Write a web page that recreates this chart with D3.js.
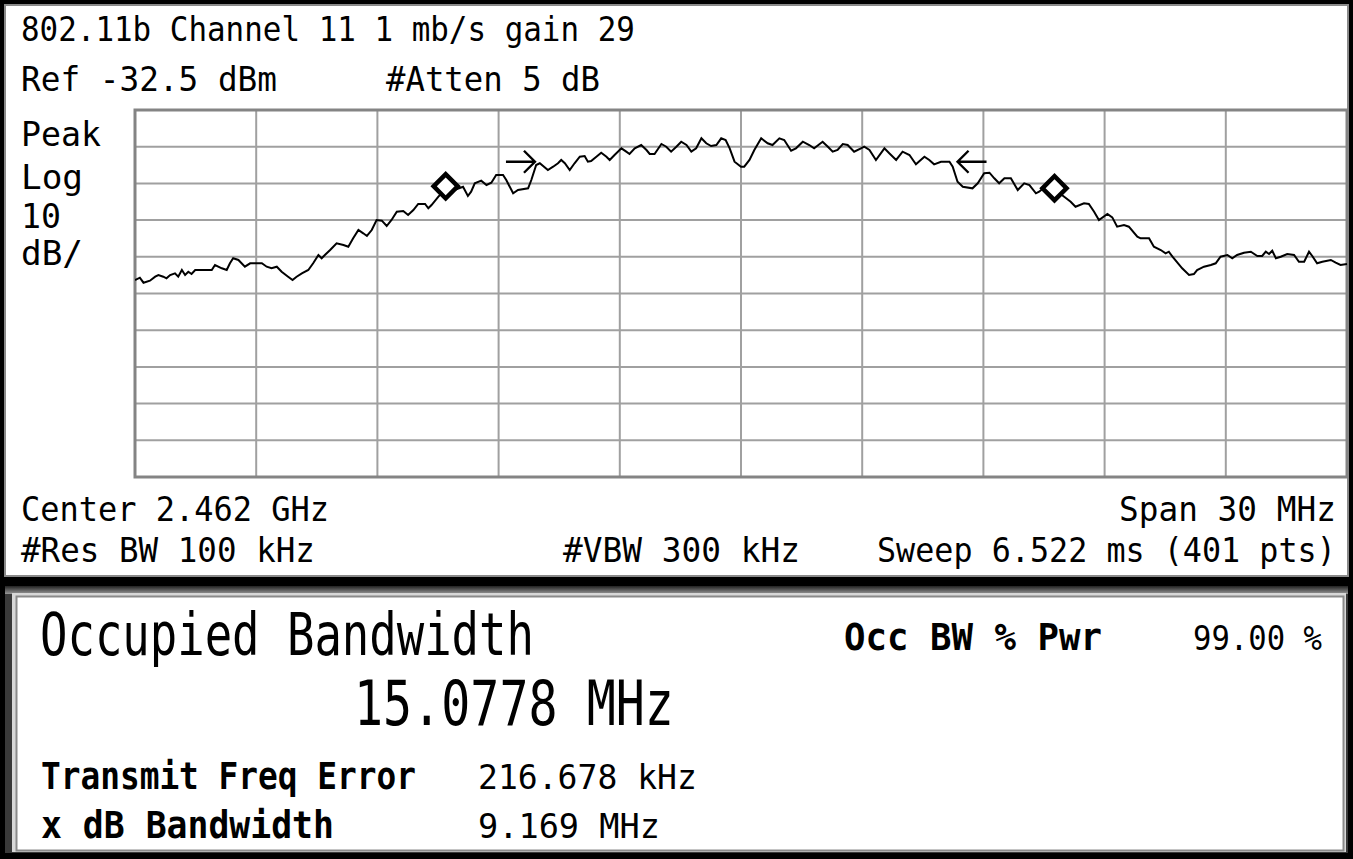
<!DOCTYPE html>
<html>
<head>
<meta charset="utf-8">
<script src="https://cdn.jsdelivr.net/npm/d3@7"></script>
<style>
html,body{margin:0;padding:0;background:#000;}
svg{display:block;}
</style>
</head>
<body>
<svg id="chart" width="1353" height="859"></svg>
<script>
// ---------- data ----------
const freqOffsetMHz = [-15.00,-14.88,-14.79,-14.63,-14.50,-14.42,-14.30,-14.22,-14.13,-14.01,
-13.93,-13.84,-13.76,-13.68,-13.60,-13.51,-13.10,-13.02,-12.85,-12.73,
-12.65,-12.57,-12.44,-12.28,-12.15,-11.99,-11.86,-11.74,-11.62,-11.49,
-11.37,-11.21,-11.10,-11.00,-10.87,-10.71,-10.59,-10.46,-10.38,-10.30,
-10.17,-10.01,-9.84,-9.72,-9.60,-9.47,-9.35,-9.26,-9.14,-9.02,
-8.89,-8.77,-8.65,-8.52,-8.36,-8.24,-8.11,-7.99,-7.82,-7.74,
-7.66,-7.49,-7.38,-7.23,-7.09,-6.88,-6.76,-6.68,-6.59,-6.43,
-6.30,-6.18,-6.06,-5.89,-5.81,-5.64,-5.52,-5.27,-5.19,-5.07,
-4.98,-4.78,-4.65,-4.53,-4.45,-4.36,-4.24,-4.12,-3.99,-3.87,
-3.79,-3.71,-3.58,-3.46,-3.33,-3.25,-3.13,-2.96,-2.84,-2.76,
-2.63,-2.47,-2.34,-2.26,-2.14,-1.97,-1.85,-1.73,-1.60,-1.48,
-1.35,-1.23,-1.11,-0.98,-0.86,-0.74,-0.61,-0.49,-0.38,-0.28,
-0.16,0.00,0.08,0.21,0.33,0.50,0.66,0.78,0.95,1.07,
1.24,1.36,1.53,1.69,1.81,2.02,2.15,2.27,2.39,2.52,
2.64,2.80,2.97,3.05,3.18,3.34,3.55,3.67,3.84,4.00,
4.17,4.33,4.54,4.66,4.78,4.95,5.16,5.24,5.36,5.49,
5.73,5.86,6.02,6.15,6.27,6.39,6.52,6.68,6.85,7.01,
7.14,7.30,7.38,7.55,7.75,8.00,8.16,8.28,8.49,8.61,
8.74,8.86,9.07,9.19,9.31,9.48,9.60,9.81,9.89,10.10,
10.22,10.39,10.51,10.59,10.68,10.92,11.09,11.21,11.29,11.46,
11.63,11.75,11.87,12.04,12.16,12.28,12.45,12.62,12.78,12.90,
12.99,13.07,13.15,13.24,13.36,13.52,13.69,13.81,13.94,14.06,
14.14,14.26,14.39,14.60,14.72,14.84,15.00];

const levelDbm = [-78.82,-78.19,-79.56,-79.01,-77.92,-77.46,-77.92,-78.36,-77.46,-77.00,
-77.92,-76.10,-77.46,-76.56,-77.19,-76.10,-76.10,-74.73,-75.63,-76.10,
-74.27,-72.91,-73.37,-75.20,-74.27,-74.27,-74.27,-75.20,-75.63,-75.20,
-76.56,-77.92,-78.82,-77.92,-77.00,-76.10,-74.27,-72.01,-72.91,-72.01,
-70.65,-68.82,-69.28,-69.75,-67.46,-65.20,-66.10,-66.83,-65.20,-62.47,
-62.66,-64.11,-62.47,-60.21,-60.02,-61.11,-59.75,-58.11,-58.11,-59.28,
-58.39,-56.12,-54.84,-53.75,-54.30,-53.40,-55.93,-54.76,-52.47,-51.76,
-52.94,-52.31,-50.21,-50.21,-51.57,-55.20,-54.30,-53.84,-51.57,-47.49,
-47.02,-48.85,-47.95,-47.02,-46.12,-47.02,-48.85,-47.02,-45.22,-45.03,
-46.59,-46.40,-45.22,-44.13,-45.22,-46.12,-44.76,-42.94,-43.86,-44.49,
-42.94,-42.04,-43.40,-44.49,-44.49,-41.76,-42.50,-43.86,-42.50,-41.14,
-42.04,-43.86,-42.94,-40.21,-41.57,-42.31,-42.04,-40.21,-40.67,-42.94,
-46.59,-47.95,-47.95,-46.12,-43.40,-40.21,-41.57,-42.04,-40.21,-40.67,
-43.59,-42.94,-41.14,-42.04,-42.94,-41.14,-42.50,-43.86,-43.40,-41.76,
-42.04,-43.86,-42.94,-42.50,-43.40,-46.12,-42.94,-44.30,-46.12,-43.86,
-44.76,-47.30,-45.22,-46.12,-47.30,-46.59,-46.59,-47.95,-52.04,-53.40,
-53.84,-52.47,-49.75,-49.58,-51.11,-52.47,-51.11,-51.11,-54.30,-52.47,
-52.94,-55.20,-54.76,-53.21,-54.03,-56.12,-57.49,-58.85,-57.92,-58.11,
-60.21,-62.47,-60.84,-61.74,-64.30,-63.84,-64.30,-67.02,-67.46,-67.46,
-69.75,-70.65,-71.55,-71.11,-72.47,-75.63,-77.46,-77.19,-76.10,-75.20,
-74.73,-74.27,-72.47,-72.01,-72.91,-72.01,-71.38,-71.11,-72.28,-72.28,
-71.11,-71.74,-70.84,-72.91,-72.47,-71.74,-72.01,-73.84,-73.84,-71.11,
-72.28,-74.27,-73.84,-73.37,-74.11,-74.73,-74.46];

// occupied-bandwidth markers (diamonds) and x-dB arrows
const markerFreqs = [-7.31, 7.76];
const markerLevels = [-53.3, -53.8];
const arrowFreqs = [-5.10, 5.36];
const arrowLevels = [-46.6, -46.6];
const arrowDirs = ["right", "left"];

// graticule
const gridFreqs = d3.range(-15, 15.001, 3);        // 10 divisions (Span 30 MHz)
const gridLevels = d3.range(-132.5, -32.49, 10);   // Ref -32.5 dBm, 10 dB/div
const refLevel = -32.5;

// annotation text
const headerLines = ["802.11b Channel 11 1 mb/s gain 29"];
const refText = "Ref -32.5 dBm";
const attenText = "#Atten 5 dB";
const scaleLabels = ["Peak", "Log", "10", "dB/"];
const centerText = "Center 2.462 GHz";
const spanText = "Span 30 MHz";
const rbwText = "#Res BW 100 kHz";
const vbwText = "#VBW 300 kHz";
const sweepText = "Sweep 6.522 ms (401 pts)";
const resultTitle = "Occupied Bandwidth";
const resultValue = "15.0778 MHz";
const occLabel = "Occ BW % Pwr";
const occValue = "99.00 %";
const resultLabels = ["Transmit Freq Error", "x dB Bandwidth"];
const resultValues = ["216.678 kHz", "9.169 MHz"];

// ---------- drawing ----------
const svg = d3.select("#chart");
const FONT = "'DejaVu Sans Mono', 'Liberation Mono', monospace";

const defs = svg.append("defs");
defs.append("clipPath").attr("id", "plotclip")
  .append("rect").attr("x", 135).attr("y", 108).attr("width", 1213).attr("height", 371);

// frame
svg.append("rect").attr("x", 0).attr("y", 0).attr("width", 1353).attr("height", 859).attr("fill", "#000");
// top panel
svg.append("rect").attr("x", 5).attr("y", 5).attr("width", 1343).attr("height", 571)
  .attr("fill", "#fff").attr("stroke", "#8a8a8a").attr("stroke-width", 2);
// bottom panel bevel
const bev = defs.append("linearGradient").attr("id", "bevT").attr("x1", 0).attr("y1", 0).attr("x2", 0).attr("y2", 1);
bev.append("stop").attr("offset", "0").attr("stop-color", "#222");
bev.append("stop").attr("offset", "1").attr("stop-color", "#999");
svg.append("rect").attr("x", 5).attr("y", 586).attr("width", 1343).attr("height", 267).attr("fill", "#3a3a3a");
svg.append("rect").attr("x", 5).attr("y", 586).attr("width", 1343).attr("height", 8).attr("fill", "url(#bevT)");
svg.append("rect").attr("x", 12).attr("y", 593).attr("width", 1334).attr("height", 259).attr("fill", "#d8d8d8");
svg.append("rect").attr("x", 16.5).attr("y", 596.5).attr("width", 1327).attr("height", 254)
  .attr("fill", "#fff").attr("stroke", "#8a8a8a").attr("stroke-width", 2);

// scales
const x = d3.scaleLinear().domain([-15, 15]).range([135, 1347]);
const y = d3.scaleLinear().domain([-132.5, refLevel]).range([477, 110]);

// graticule
const grid = svg.append("g");
grid.selectAll("line.v").data(gridFreqs.slice(1, -1)).join("line")
  .attr("x1", d => x(d)).attr("x2", d => x(d)).attr("y1", y(refLevel)).attr("y2", y(-132.5))
  .attr("stroke", "#a0a0a0").attr("stroke-width", 2);
grid.selectAll("line.h").data(gridLevels.slice(1, -1)).join("line")
  .attr("x1", x(-15)).attr("x2", x(15)).attr("y1", d => y(d)).attr("y2", d => y(d))
  .attr("stroke", "#a0a0a0").attr("stroke-width", 2);
grid.append("rect").attr("x", x(-15)).attr("y", y(refLevel))
  .attr("width", x(15) - x(-15)).attr("height", y(-132.5) - y(refLevel))
  .attr("fill", "none").attr("stroke", "#848484").attr("stroke-width", 3);

// trace
const traceData = freqOffsetMHz.map((f, i) => ({f, l: levelDbm[i]}));
svg.append("path").datum(traceData)
  .attr("clip-path", "url(#plotclip)")
  .attr("fill", "none").attr("stroke", "#000").attr("stroke-width", 2)
  .attr("stroke-linejoin", "miter")
  .attr("d", d3.line().x(d => x(d.f)).y(d => y(d.l)));

// markers
const mk = markerFreqs.map((f, i) => ({f, l: markerLevels[i]}));
svg.selectAll("path.marker").data(mk).join("path")
  .attr("class", "marker")
  .attr("transform", d => `translate(${x(d.f)},${y(d.l)}) rotate(45)`)
  .attr("d", d3.symbol(d3.symbolSquare, 290)())
  .attr("fill", "#fff").attr("stroke", "#000").attr("stroke-width", 4.5);

// arrows
const ar = arrowFreqs.map((f, i) => ({f, l: arrowLevels[i], dir: arrowDirs[i]}));
const arrowG = svg.selectAll("g.arrow").data(ar).join("g")
  .attr("transform", d => `translate(${x(d.f)},${y(d.l)}) scale(${d.dir === "right" ? 1 : -1},1)`);
arrowG.append("path")
  .attr("d", "M-29,0 L0,0 M-11,-11 L0,0 L-11,11")
  .attr("fill", "none").attr("stroke", "#000").attr("stroke-width", 2.4);

// text helper: font size chosen from the wanted width, vertical stretch from wanted cap height
function txt(s, xx, yy, capH, len, weight) {
  const fs = len / (s.length * 0.602);
  const sy = capH / (fs * 0.729);
  return svg.append("text").text(s)
    .attr("transform", `translate(${xx},${yy}) scale(1,${sy.toFixed(3)})`)
    .attr("font-family", FONT).attr("font-size", fs.toFixed(2))
    .attr("font-weight", weight || "normal")
    .attr("fill", "#000");
}

txt(headerLines[0], 21, 41, 25, 614);
txt(refText, 21, 91, 25, 256);
txt(attenText, 386, 91, 25, 214);
const scaleY = [146, 189, 228, 265];
const scaleW = [80, 62, 40, 62];
scaleLabels.forEach((s, i) => txt(s, 21, scaleY[i], 25, scaleW[i]));

txt(centerText, 21, 521, 25, 308);
txt(spanText, 1119, 521, 25, 217);
txt(rbwText, 21, 562, 25, 294);
txt(vbwText, 563, 562, 25, 237);
txt(sweepText, 877, 562, 25, 459);

txt(resultTitle, 40, 655, 43, 494);
txt(resultValue, 354, 725, 46, 320);
txt(occLabel, 844, 650, 27, 258, "bold");
txt(occValue, 1193, 650, 25, 129);
const resY = [789, 838];
const resLW = [375, 293];
const resVW = [219, 182];
resultLabels.forEach((s, i) => txt(s, 41, resY[i], 27, resLW[i], "bold"));
resultValues.forEach((s, i) => txt(s, 478, resY[i], 25, resVW[i]));
</script>
</body>
</html>
